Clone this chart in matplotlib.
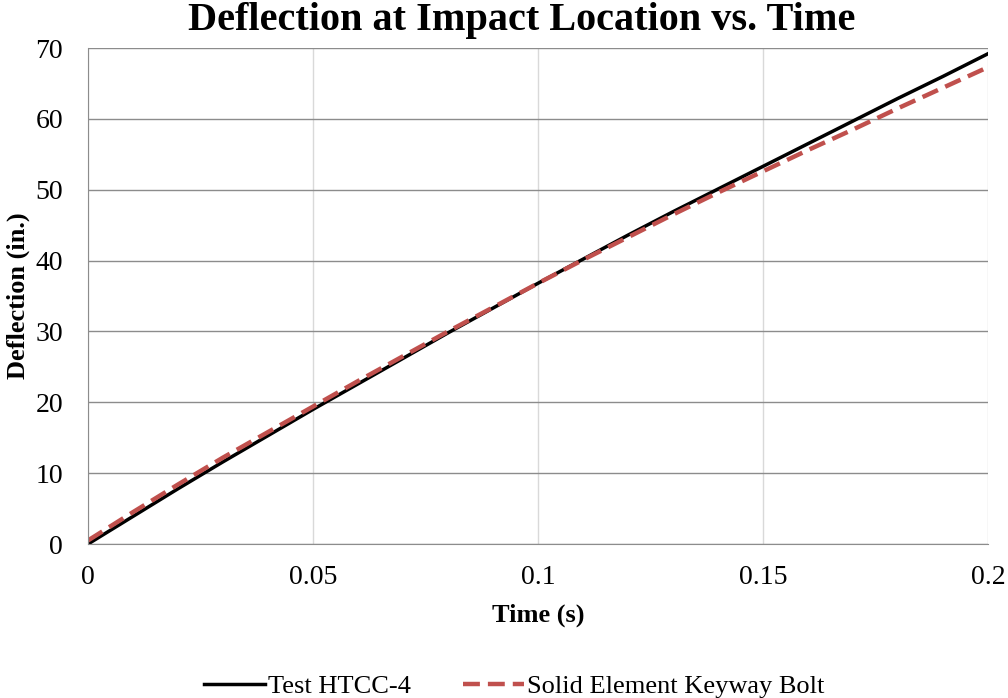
import matplotlib
matplotlib.use("Agg")
import matplotlib.pyplot as plt

plt.rcParams['font.family'] = ['Liberation Serif', 'DejaVu Serif']

time_s = [0.0, 0.01, 0.02, 0.03, 0.04, 0.05, 0.06, 0.07, 0.08, 0.09, 0.1,
          0.11, 0.12, 0.13, 0.14, 0.15, 0.16, 0.17, 0.18, 0.19, 0.2]
test_htcc4 = [0.0, 3.9, 7.8, 11.6, 15.3, 19.0, 22.6, 26.2, 29.8, 33.3, 36.8,
              40.2, 43.6, 46.9, 50.1, 53.3, 56.5, 59.7, 62.9, 66.0, 69.2]
solid_keyway = [0.5, 4.5, 8.4, 12.2, 15.8, 19.4, 23.0, 26.5, 30.0, 33.4, 36.8,
                40.1, 43.3, 46.5, 49.6, 52.6, 55.6, 58.5, 61.5, 64.4, 67.3]

x_ticks = [0, 0.05, 0.1, 0.15, 0.2]
x_tick_labels = ["0", "0.05", "0.1", "0.15", "0.2"]
y_ticks = [0, 10, 20, 30, 40, 50, 60, 70]

fig = plt.figure(figsize=(10.08, 6.98), dpi=100)
ax = fig.add_axes([0.0873, 0.2206, 0.8929, 0.7106])

ax.plot(time_s, test_htcc4, color="black", lw=2.5, label="Test HTCC-4")
ax.plot(time_s, solid_keyway, color="#c0504d", lw=3.2, ls=(0, (3.8, 1.8)),
        label="Solid Element Keyway Bolt")

ax.set_xlim(0, 0.2)
ax.set_ylim(0, 70)
ax.set_xticks(x_ticks)
ax.set_xticklabels(x_tick_labels)
ax.set_yticks(y_ticks)
ax.tick_params(length=0, labelsize=20)
ax.tick_params(axis="x", pad=15)
ax.tick_params(axis="y", pad=18)

ax.grid(axis="y", color="#8c8c8c", lw=1)
ax.grid(axis="x", color="#d9d9d9", lw=1)
ax.set_axisbelow(True)
for side in ["top", "right"]:
    ax.spines[side].set_visible(False)
ax.spines["left"].set_color("#8c8c8c")
ax.spines["bottom"].set_color("#8c8c8c")

fig.text(0.518, 1 - 30 / 698, "Deflection at Impact Location vs. Time",
         fontsize=29, fontweight="bold", ha="center", va="baseline")
ax.set_xlabel("Time (s)", fontsize=19, fontweight="bold", labelpad=10)
ax.set_ylabel("Deflection (in.)", fontsize=19, fontweight="bold", labelpad=4)

fig.legend(loc="lower center", bbox_to_anchor=(0.51, -0.034), ncol=2,
           frameon=False, fontsize=19, handlelength=2.3, columnspacing=2.0,
           handletextpad=0.1)

fig.savefig("out.png", dpi=100)
